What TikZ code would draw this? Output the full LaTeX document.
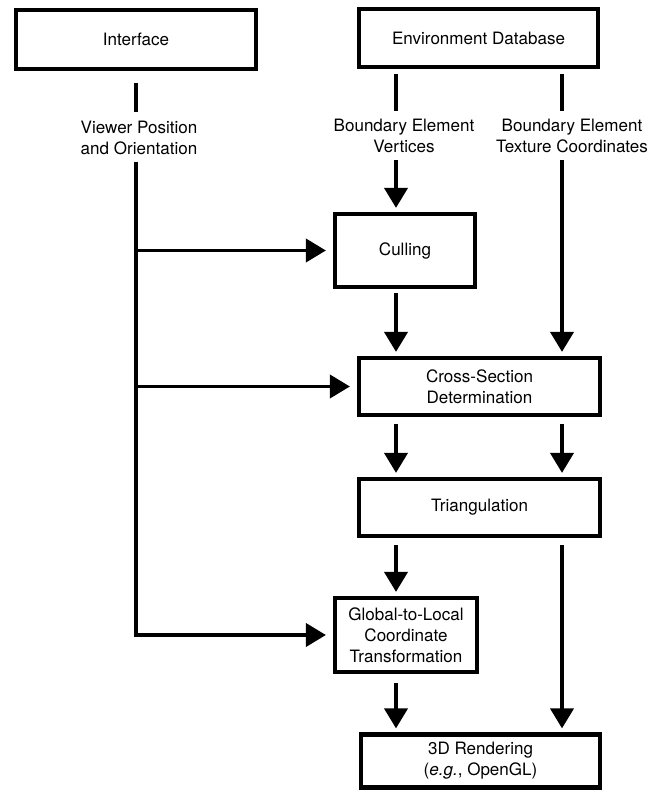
\documentclass[tikz,border=0pt]{standalone}
\usepackage{fontspec}
\setmainfont{TeX Gyre Heros}
\usetikzlibrary{arrows.meta}

\begin{document}
\begin{tikzpicture}[x=0.02cm,y=-0.02cm,>={Triangle[length=0.4cm,width=0.46cm]},
                    box/.style={draw,line width=2.4pt,align=center,inner sep=0pt},
                    lbl/.style={align=center,inner sep=0pt},
                    flow/.style={line width=2.2pt},
                    font=\fontsize{9.7}{11.9}\selectfont]
                \useasboundingbox (0,0) rectangle (666,793);
                \coordinate (trunk) at (136,0);
                \coordinate (lcol) at (396,0);
                \coordinate (rcol) at (562,0);
                \node[box,minimum width=4.8cm,minimum height=1.18cm] (iface) at (136,39.5) {Interface};
                \node[box,minimum width=4.78cm,minimum height=1.16cm] (envdb) at (478.5,38) {Environment Database};
                \node[lbl] (viewer) at (139,137.5) {Viewer Position\\and Orientation};
                \node[lbl] (verts) at (404,136) {Boundary Element\\Vertices};
                \node[lbl] (texc) at (572,136) {Boundary Element\\Texture Coordinates};
                \node[box,minimum width=2.8cm,minimum height=1.46cm] (cull) at (405,250.5) {Culling};
                \node[box,minimum width=4.82cm,minimum height=1.14cm] (cross) at (479.5,386.5) {Cross-Section\\Determination};
                \node[box,minimum width=4.82cm,minimum height=1.14cm] (tri) at (479.5,507.5) {Triangulation};
                \node[box,minimum width=2.84cm,minimum height=1.48cm] (g2l) at (406,635) {Global-to-Local\\Coordinate\\Transformation};
                \node[box,minimum width=4.78cm,minimum height=1.06cm] (render) at (480.5,761) {3D Rendering\\(\emph{e.g.}, OpenGL)};
                % feeds into the labels
                \draw[flow,shorten <=0.24cm,shorten >=0.16cm] (iface.south) -- (viewer.north -| trunk);
                \draw[flow,shorten <=0.1cm,shorten >=0.16cm] (envdb.south -| lcol) -- (verts.north -| lcol);
                \draw[flow,shorten <=0.1cm,shorten >=0.16cm] (envdb.south -| rcol) -- (texc.north -| rcol);
                % viewer trunk and its branches
                \draw[flow,->,shorten <=0.14cm,shorten >=0.14cm] (viewer.south -| trunk) -- (g2l.west -| trunk) -- (g2l.west);
                \draw[flow,->,shorten >=0.14cm] (cull.west -| trunk) -- (cull.west);
                \draw[flow,->,shorten >=0.14cm] (cross.west -| trunk) -- (cross.west);
                % pipeline
                \draw[flow,->,shorten <=0.14cm,shorten >=0.08cm] (verts.south -| lcol) -- (cull.north -| lcol);
                \draw[flow,->,shorten <=0.14cm,shorten >=0.08cm] (texc.south -| rcol) -- (cross.north -| rcol);
                \draw[flow,->,shorten <=0.08cm,shorten >=0.08cm] (cull.south -| lcol) -- (cross.north -| lcol);
                \draw[flow,->,shorten <=0.14cm,shorten >=0.08cm] (cross.south -| lcol) -- (tri.north -| lcol);
                \draw[flow,->,shorten <=0.14cm,shorten >=0.08cm] (cross.south -| rcol) -- (tri.north -| rcol);
                \draw[flow,->,shorten <=0.14cm,shorten >=0.08cm] (tri.south -| lcol) -- (g2l.north -| lcol);
                \draw[flow,->,shorten <=0.14cm,shorten >=0.08cm] (tri.south -| rcol) -- (render.north -| rcol);
                \draw[flow,->,shorten <=0.18cm,shorten >=0.08cm] (g2l.south -| lcol) -- (render.north -| lcol);
            \end{tikzpicture}
\end{document}
